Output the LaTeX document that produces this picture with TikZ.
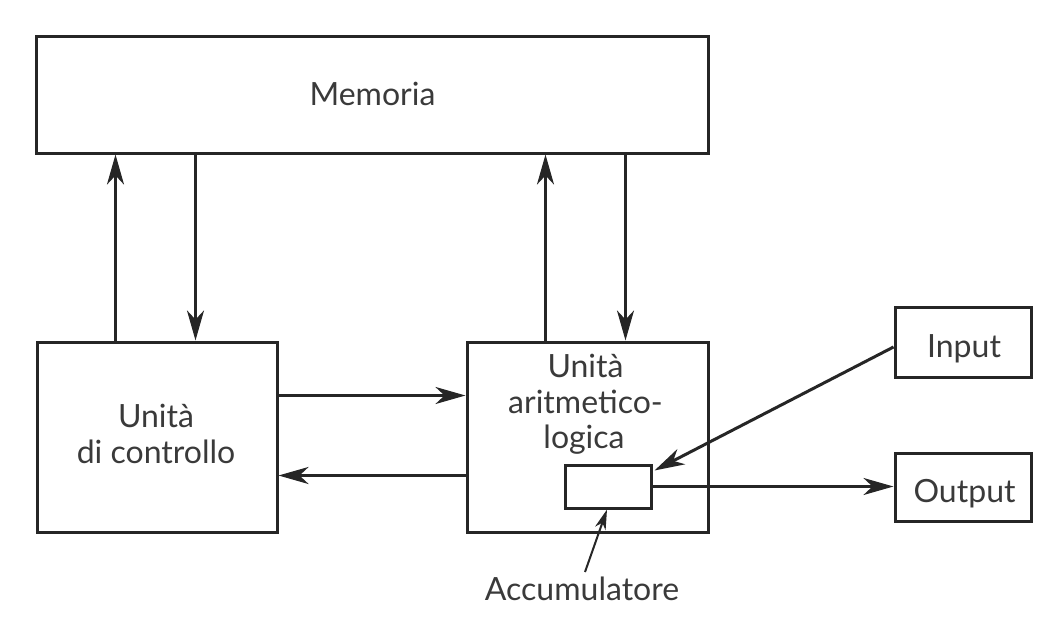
\documentclass[tikz,border=0pt]{standalone}
\usepackage{fontspec}
\setmainfont{Lato}
\usetikzlibrary{arrows.meta,calc}
\definecolor{ink}{HTML}{262626}
\definecolor{txt}{HTML}{3A3A3A}
\begin{document}
\begin{tikzpicture}[x=1pt,y=-1pt,
  box/.style={draw=ink,line width=3pt,inner sep=0pt,fill=white},
  lbl/.style={text=txt,inner sep=0pt,anchor=base,font=\fontsize{32pt}{38pt}\selectfont},
  arr/.style={draw=ink,line width=3pt,-{Stealth[length=30pt,width=17pt,inset=9pt]}},
  thinarr/.style={draw=ink,line width=2pt,-{Stealth[length=20pt,width=11pt,inset=6pt]}}]
\useasboundingbox (0,0) rectangle (1059,626);
\node[box,minimum width=672pt,minimum height=116pt] (mem) at (372.5,95) {};
\node[box,minimum width=240pt,minimum height=190pt] (cu) at (157,437) {};
\node[box,minimum width=241pt,minimum height=190pt] (alu) at (587.5,437) {};
\node[box,minimum width=86pt,minimum height=43pt] (acc) at (608,486.5) {};
\node[box,minimum width=136pt,minimum height=70pt] (inp) at (963,342) {};
\node[box,minimum width=136pt,minimum height=68pt] (out) at (963,487) {};
\node[lbl] (memt) at (372.5,105) {Memoria};
\node[lbl] (cut1) at (156,427) {Unità};
\node[lbl] (cut2) at (156,463) {di controllo};
\node[lbl] (alut1) at (585.5,377) {Unità};
\node[lbl] (alut2) at (585.5,413) {aritmetico-};
\node[lbl] (alut3) at (584,448) {logica};
\node[lbl] (inpt) at (964,357) {Input};
\node[lbl] (outt) at (964.5,502) {Output};
\node[lbl] (acclbl) at (582,600) {Accumulatore};
\coordinate (u1) at ([xshift=80pt]cu.north west);
\coordinate (d1) at ([xshift=160pt]cu.north west);
\coordinate (u2) at ([xshift=80pt]alu.north west);
\coordinate (d2) at ([xshift=160pt]alu.north west);
\draw[arr] (u1) -- (u1 |- mem.south);
\draw[arr] (d1 |- mem.south) -- (d1);
\draw[arr] (u2) -- (u2 |- mem.south);
\draw[arr] (d2 |- mem.south) -- (d2);
\coordinate (h1) at ([yshift=-55pt]cu.north east);
\coordinate (h2) at ([yshift=-135pt]cu.north east);
\draw[arr] (h1) -- (h1 -| alu.west);
\draw[arr] (h2 -| alu.west) -- (h2);
\draw[arr] ([yshift=-5pt]inp.west) -- ([xshift=2pt,yshift=-7pt]acc.north east);
\draw[arr] (acc.east) -- (acc.east -| out.west);
\coordinate (accfoot) at (585,572);
\draw[thinarr] (accfoot) -- ([xshift=-1pt]acc.south);
\end{tikzpicture}
\end{document}
